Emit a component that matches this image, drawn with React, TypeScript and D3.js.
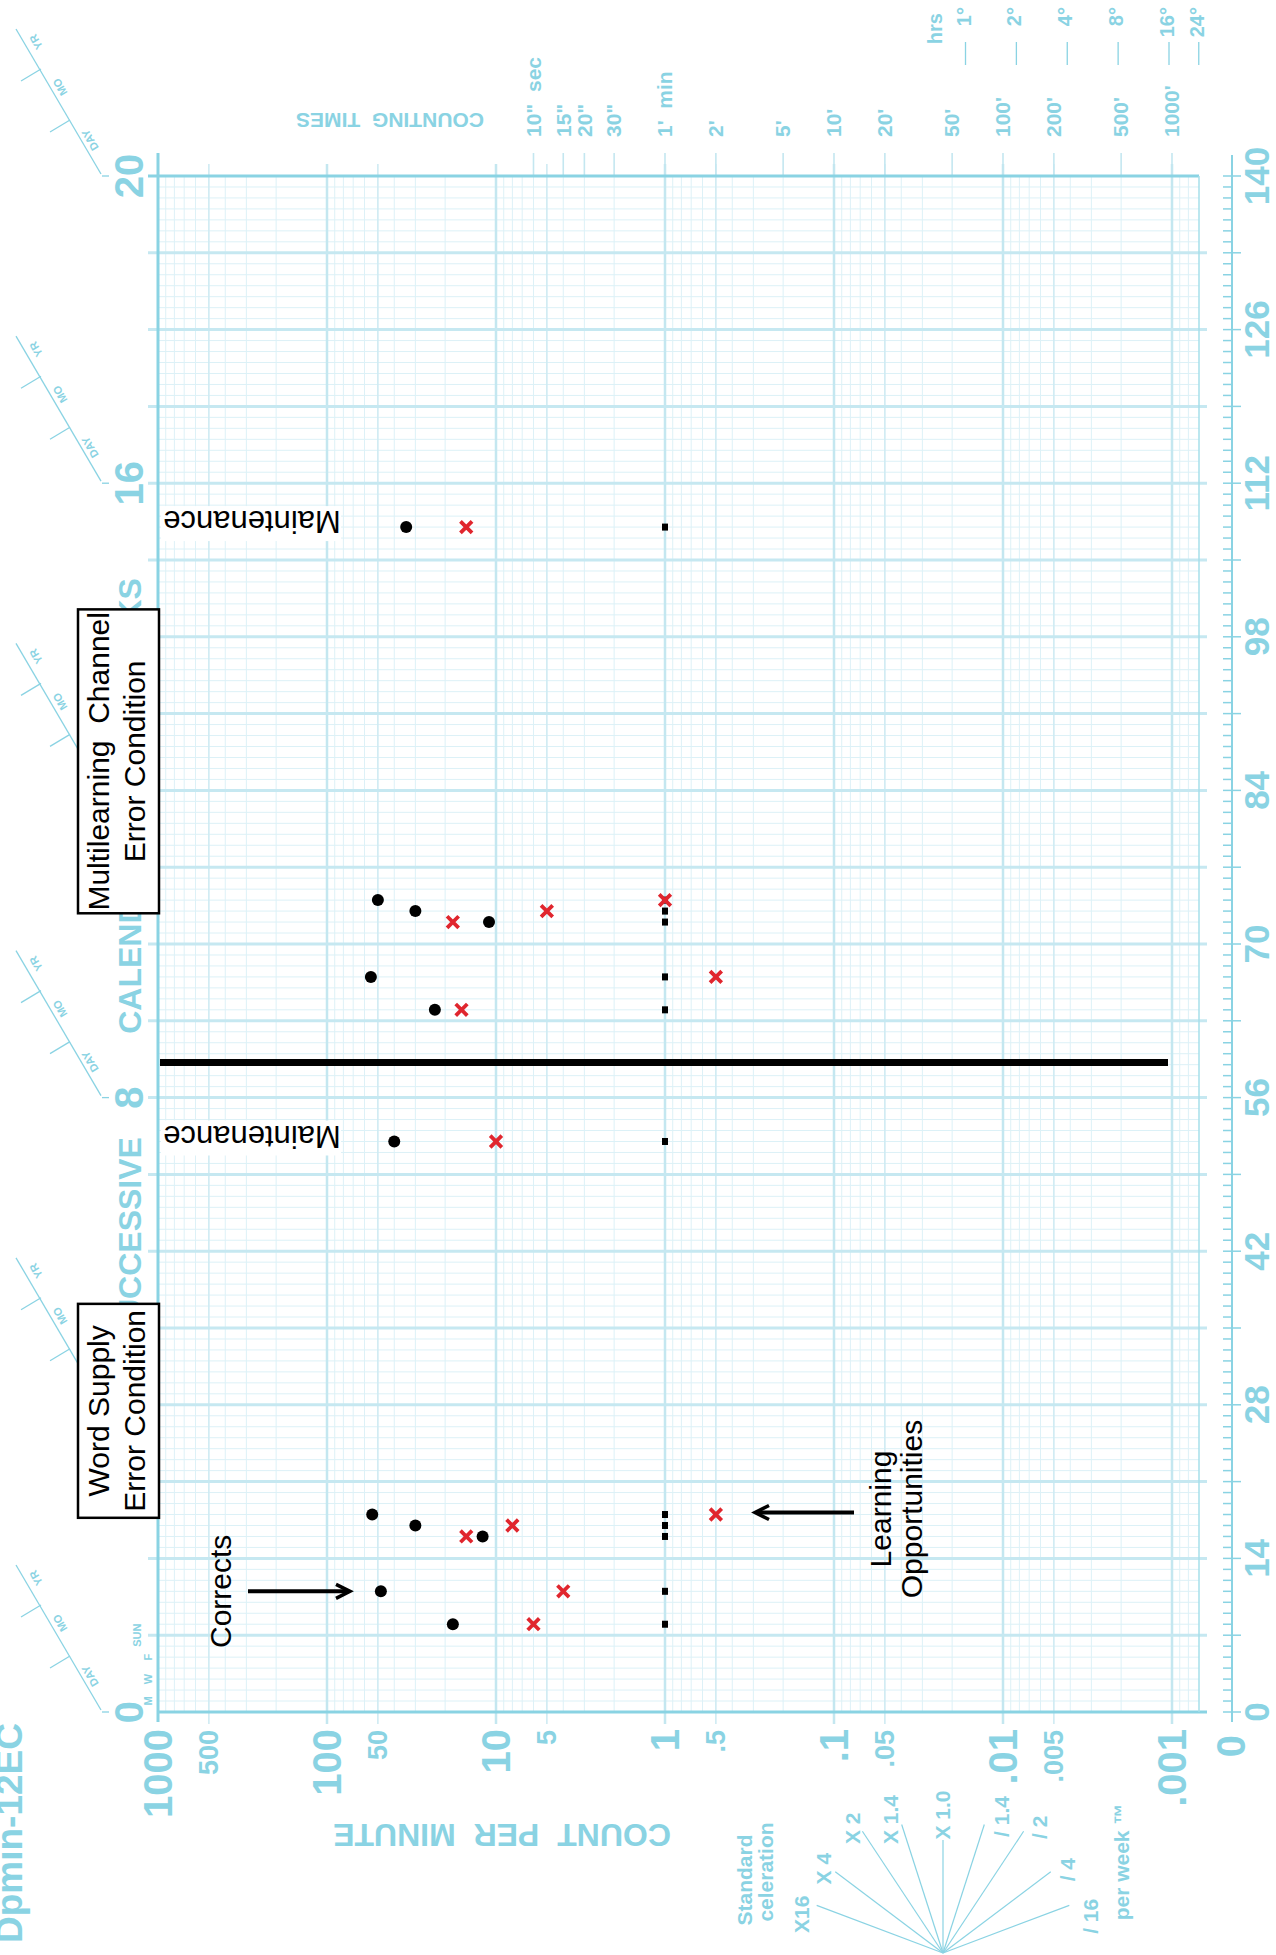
import * as d3 from "d3";

// --- values (count per minute) ---
const sessionDays = [8, 11, 16, 17, 18, 52, 64, 67, 72, 73, 74, 108];
const corrects = [18, 48, 12, 30, 54, 40, 23, 55, 11, 30, 50, 34];
const errors = [6, 4, 15, 8, 0.5, 10, 16, 0.5, 18, 5, 1, 15];
const recordFloors = [1, 1, 1, 1, 1, 1, 1, 1, 1, 1, 1, 1];

const phaseChangeDay = 59.2;
const maintenanceDays = [52, 108];

const dayTicks = [0, 14, 28, 42, 56, 70, 84, 98, 112, 126, 140];
const weekTicks = [0, 4, 8, 12, 16, 20];
const titleWords = ["SUCCESSIVE", "CALENDAR", "WEEKS"];
const titleDays = [43, 70, 98];

const majorCountValues = [1000, 100, 10, 1, 0.1, 0.01, 0.001];
const majorCountLabels = ["1000", "100", "10", "1", ".1", ".01", ".001"];
const minorCountValues = [500, 50, 5, 0.5, 0.05, 0.005];
const minorCountLabels = ["500", "50", "5", ".5", ".05", ".005"];

const countingTimeValues = [6, 4, 3, 2, 1, 0.5, 0.2, 0.1, 0.05, 0.02, 0.01, 0.005, 0.002, 0.001];
const countingTimeLabels = [
  '10"\u00a0\u00a0sec', '15"', '20"', '30"', "1'\u00a0\u00a0min", "2'", "5'",
  "10'", "20'", "50'", "100'", "200'", "500'", "1000'",
];
const hourValues = [1, 2, 4, 8, 16, 24];
const hourLabels = ["1°", "2°", "4°", "8°", "16°", "24°"];

const celerations = [16, 4, 2, 1.4, 1, 1 / 1.4, 1 / 2, 1 / 4, 1 / 16];
const celerationLabels = ["X16", "X 4", "X 2", "X 1.4", "X 1.0", "/ 1.4", "/ 2", "/ 4", "/ 16"];

// --- layout ---
const W = 1276;
const H = 1955;
const LEFT = 158;
const TOP = 176;
const BOTTOM = 1712;
const RIGHT = 1199;
const CYAN = "#8ad3e3";
const FONT = "'Liberation Sans', Arial, Helvetica, sans-serif";
const RED = "#e0262e";

const x = d3.scaleLog().domain([1000, 0.001]).range([LEFT, 1172]);
const y = d3.scaleLinear().domain([0, 140]).range([BOTTOM, TOP]);

// log grid values, 1000 down past .001
const gridCounts: { v: number; kind: string }[] = [];
for (let e = 2; e >= -4; e--) {
  for (let m = 9; m >= 1; m--) {
    const v = m * Math.pow(10, e);
    if (v < 0.00079) continue;
    gridCounts.push({ v, kind: m === 1 ? "decade" : m === 5 ? "five" : "minor" });
  }
}
const days = d3.range(0, 141);

function RText({ x, y, rot = -90, anchor = "middle", size, fill = CYAN, weight = "bold", dy = "0.35em", children }: any) {
  return (
    <text
      transform={`translate(${x},${y}) rotate(${rot})`}
      textAnchor={anchor}
      dy={dy}
      fontSize={size}
      fill={fill}
      fontWeight={weight}
      fontFamily={FONT}
    >
      {children}
    </text>
  );
}

export default function App() {
  const fanCx = 943;
  const fanCy = 1953;
  const weekPx = y(0) - y(7);
  const decadePx = x(1) - x(10);
  // nudges for fan labels, from the line end
  const fanNudge = [[-15, 9], [-12, -3], [-10, -3], [-11, -5], [0, -25], [17, -8], [16, -4], [17, -2], [21, 11]];

  return (
    <svg width={W} height={H} style={{ position: "absolute", left: 0, top: 0, background: "#fff" }}>
      {/* day grid */}
      {days.map((d) =>
        d % 7 === 0 ? null : (
          <line key={"d" + d} x1={LEFT} x2={RIGHT} y1={y(d)} y2={y(d)} stroke="#dcf1f7" strokeWidth={1} />
        )
      )}
      {/* count grid */}
      {gridCounts.map((g, i) => {
        const ext = g.kind === "minor" ? 0 : 12;
        return (
          <line
            key={"c" + i}
            x1={x(g.v)}
            x2={x(g.v)}
            y1={TOP - ext}
            y2={BOTTOM + ext}
            stroke={g.kind === "decade" ? "#c4e7f0" : g.kind === "five" ? "#cfebf3" : "#ddf1f7"}
            strokeWidth={g.kind === "decade" ? 2.5 : g.kind === "five" ? 1.6 : 1}
          />
        );
      })}
      {/* weekly lines */}
      {days
        .filter((d) => d % 7 === 0 && d > 0 && d < 140)
        .map((d) => (
          <line key={"w" + d} x1={148} x2={1207} y1={y(d)} y2={y(d)} stroke="#c6e8f1" strokeWidth={3} />
        ))}
      {/* counting-time ticks above the frame */}
      {countingTimeValues.map((v, i) => (
        <line key={"ct" + i} x1={x(v)} x2={x(v)} y1={153} y2={TOP} stroke="#c4e7f0" strokeWidth={1.6} />
      ))}

      {/* frame */}
      <line x1={LEFT} x2={LEFT} y1={153} y2={1722} stroke={CYAN} strokeWidth={3} />
      <line x1={148} x2={RIGHT} y1={TOP} y2={TOP} stroke={CYAN} strokeWidth={3} />
      <line x1={LEFT} x2={1207} y1={BOTTOM} y2={BOTTOM} stroke={CYAN} strokeWidth={3} />
      <line x1={RIGHT} x2={RIGHT} y1={TOP} y2={BOTTOM} stroke="#a6dfea" strokeWidth={1.5} />

      {/* day axis on the right */}
      <line x1={1232} x2={1232} y1={155} y2={1722} stroke={CYAN} strokeWidth={2} />
      {days.map((d) => (
        <line
          key={"t" + d}
          x1={1223}
          x2={d % 7 === 0 ? 1241 : 1232}
          y1={y(d)}
          y2={y(d)}
          stroke={CYAN}
          strokeWidth={1.5}
        />
      ))}
      {dayTicks.map((d) => (
        <RText key={"dl" + d} x={1257} y={y(d)} size={35}>
          {d}
        </RText>
      ))}

      {/* count labels */}
      {majorCountValues.map((v, i) => (
        <RText key={"ml" + i} x={x(v)} y={1729} anchor="end" size={40}>
          {majorCountLabels[i]}
        </RText>
      ))}
      {minorCountValues.map((v, i) => (
        <RText key={"nl" + i} x={x(v)} y={1730} anchor="end" size={27}>
          {minorCountLabels[i]}
        </RText>
      ))}
      <RText x={1231} y={1735} anchor="end" size={40}>
        0
      </RText>
      <RText x={502} y={1835} rot={180} size={32}>
        {"COUNT\u00a0 PER\u00a0 MINUTE"}
      </RText>
      <RText x={22} y={1943} anchor="start" dy="0" size={37}>
        Dpmin-12EC
      </RText>

      {/* counting times */}
      <RText x={390} y={120} rot={180} size={21}>
        {"COUNTING\u00a0 TIMES"}
      </RText>
      {countingTimeValues.map((v, i) => (
        <RText key={"cl" + i} x={x(v)} y={137} anchor="start" size={21}>
          {countingTimeLabels[i]}
        </RText>
      ))}
      {hourValues.map((h, i) => {
        const xx = x(1 / (60 * h));
        return (
          <g key={"h" + i}>
            <line x1={xx} x2={xx} y1={42} y2={65} stroke={CYAN} strokeWidth={1.3} />
            <RText x={xx - 2} y={7} anchor="end" size={20}>
              {hourLabels[i]}
            </RText>
          </g>
        );
      })}
      <RText x={935} y={13} anchor="end" size={20}>
        hrs
      </RText>

      {/* week labels, title and date diagonals on the left */}
      {titleWords.map((t, i) => (
        <RText key={t} x={129.5} y={y(titleDays[i])} size={32}>
          {t}
        </RText>
      ))}
      {weekTicks.map((w) => {
        const yw = y(w * 7);
        return (
          <g key={"wk" + w}>
            <RText x={129} y={yw} size={40}>
              {w}
            </RText>
            <g stroke={CYAN} strokeWidth={1.3}>
              <line x1={16} y1={yw - 147} x2={101} y2={yw - 2} />
              <line x1={102} y1={yw} x2={109} y2={yw} />
              <line x1={41} y1={yw - 107} x2={21} y2={yw - 95} />
              <line x1={70} y1={yw - 56} x2={50} y2={yw - 44} />
            </g>
            <RText x={36} y={yw - 134} rot={-120} size={11}>
              YR
            </RText>
            <RText x={60} y={yw - 89} rot={-120} size={11}>
              MO
            </RText>
            <RText x={90} y={yw - 36} rot={-120} size={11}>
              DAY
            </RText>
          </g>
        );
      })}
      {["M", "W", "F"].map((t, i) => (
        <RText key={t} x={148} y={y(1 + 2 * i)} size={11}>
          {t}
        </RText>
      ))}
      <RText x={137} y={y(7)} size={11}>
        SUN
      </RText>

      {/* celeration fan */}
      {celerations.map((c, i) => {
        const dx = -Math.log10(c) * decadePx;
        const dy = -weekPx;
        const len = c === 1 ? 113 : Math.abs(Math.abs(Math.log2(c)) - 1) < 0.01 ? 146 : 135;
        const n = Math.hypot(dx, dy);
        const ex = fanCx + (dx / n) * len;
        const ey = fanCy + (dy / n) * len;
        return (
          <g key={"f" + i}>
            <line x1={fanCx} y1={fanCy} x2={ex} y2={ey} stroke={CYAN} strokeWidth={1.2} />
            <RText x={ex + fanNudge[i][0]} y={ey + fanNudge[i][1]} size={21}>
              {celerationLabels[i]}
            </RText>
          </g>
        );
      })}
      <RText x={745} y={1880} size={21}>
        Standard
      </RText>
      <RText x={766} y={1872} size={21}>
        celeration
      </RText>
      <RText x={1122} y={1862} size={21}>
        per week ™
      </RText>

      {/* condition boxes */}
      {[
        { d0: 17.7, d1: 37.2, l1: "Word Supply", l2: "Error Condition" },
        { d0: 72.8, d1: 100.5, l1: "Multilearning  Channel", l2: "Error Condition" },
      ].map((b, i) => {
        const cy = (y(b.d0) + y(b.d1)) / 2;
        return (
          <g key={"b" + i}>
            <rect x={78} y={y(b.d1)} width={81} height={y(b.d0) - y(b.d1)} fill="#fff" stroke="#000" strokeWidth={2.5} />
            <RText x={108.5} y={cy} size={30} fill="#000" weight="normal" dy="0" >
              {b.l1.replace("  ", "\u00a0 ")}
            </RText>
            <RText x={144.5} y={cy} size={30} fill="#000" weight="normal" dy="0">
              {b.l2}
            </RText>
          </g>
        );
      })}

      {/* maintenance notes */}
      {maintenanceDays.map((d) => (
        <g key={"m" + d}>
          <rect x={161} y={y(d) - 21} width={180} height={35} fill="#fff" />
          <RText x={252} y={y(d) - 5} rot={180} size={31} fill="#000" weight="normal">
            Maintenance
          </RText>
        </g>
      ))}

      {/* phase change line */}
      <line x1={160} x2={1168} y1={y(phaseChangeDay)} y2={y(phaseChangeDay)} stroke="#000" strokeWidth={7} />

      {/* record floors */}
      {sessionDays.map((d, i) => (
        <rect key={"rf" + i} x={x(recordFloors[i]) - 3} y={y(d) - 3.5} width={6} height={7} fill="#000" />
      ))}
      {/* corrects */}
      {sessionDays.map((d, i) => (
        <circle key={"co" + i} cx={x(corrects[i])} cy={y(d)} r={6} fill="#000" />
      ))}
      {/* errors */}
      {sessionDays.map((d, i) => {
        const cx = x(errors[i]);
        const cy = y(d);
        const s = 5.8;
        return (
          <path
            key={"er" + i}
            d={`M${cx - s},${cy - s}L${cx + s},${cy + s}M${cx - s},${cy + s}L${cx + s},${cy - s}`}
            stroke={RED}
            strokeWidth={3.8}
          />
        );
      })}

      {/* annotations */}
      <RText x={231} y={y(11)} size={30} fill="#000" weight="normal" dy="0">
        Corrects
      </RText>
      <g stroke="#000" strokeWidth={4} fill="none">
        <line x1={248} x2={349} y1={y(11)} y2={y(11)} />
        <polyline points={`336,${y(11) - 7} 350,${y(11)} 336,${y(11) + 7}`} strokeWidth={3.5} />
      </g>
      <RText x={891} y={1509} size={30} fill="#000" weight="normal" dy="0">
        Learning
      </RText>
      <RText x={922} y={1509} size={30} fill="#000" weight="normal" dy="0">
        Opportunities
      </RText>
      <g stroke="#000" strokeWidth={4} fill="none">
        <line x1={756} x2={854} y1={y(18) - 2} y2={y(18) - 2} />
        <polyline points={`769,${y(18) - 9} 755,${y(18) - 2} 769,${y(18) + 5}`} strokeWidth={3.5} />
      </g>
    </svg>
  );
}
